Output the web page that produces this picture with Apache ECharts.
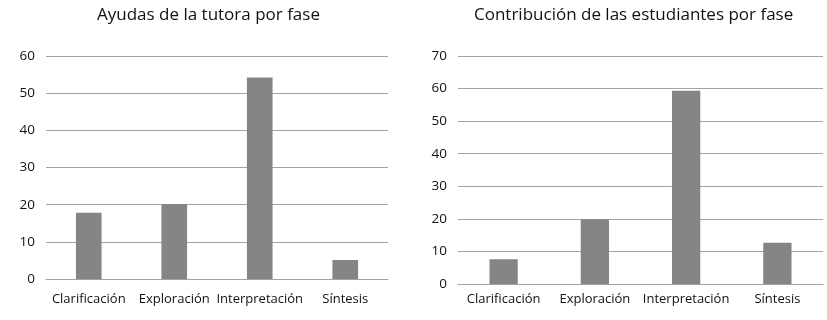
<!DOCTYPE html>
<html><head><meta charset="utf-8">
<script src="https://cdn.jsdelivr.net/npm/echarts@6/dist/echarts.min.js"></script>
<style>html,body{margin:0;padding:0;background:#fff}#c{width:827px;height:320px}</style>
</head><body><div id="c"></div>
<script>
const categories = ['Clarificación', 'Exploración', 'Interpretación', 'Síntesis'];
const tutoraValues = [17.8, 20.2, 54.2, 5.1];
const estudiantesValues = [7.6, 19.9, 59.3, 12.7];
const titleLeft = 'Ayudas de la tutora por fase';
const titleRight = 'Contribución de las estudiantes por fase';

const font = '"Open Sans", "Noto Sans", sans-serif';
const gridColor = '#a3a3a3';
const barColor = '#858585';
const textColor = '#111111';

function xAx(gi, margin) {
  return {
    type: 'category', gridIndex: gi, data: categories,
    axisTick: {show: false},
    axisLine: {show: true, lineStyle: {color: gridColor, width: 1}},
    axisLabel: {color: textColor, fontFamily: font, fontSize: 13, margin: margin, interval: 0}
  };
}
function yAx(gi, max) {
  return {
    type: 'value', gridIndex: gi, min: 0, max: max, interval: 10,
    axisLine: {show: false}, axisTick: {show: false},
    axisLabel: {color: textColor, fontFamily: font, fontSize: 13.5, margin: 11},
    splitLine: {show: true, lineStyle: {color: gridColor, width: 1}}
  };
}
const chart = echarts.init(document.getElementById('c'), null, {renderer: 'canvas'});
chart.setOption({
  animation: false,
  title: [
    {text: titleLeft, left: 92, top: 2, textStyle: {fontFamily: font, fontSize: 17, fontWeight: 'normal', color: textColor}},
    {text: titleRight, left: 469, top: 2, textStyle: {fontFamily: font, fontSize: 17, fontWeight: 'normal', color: textColor}}
  ],
  grid: [
    {left: 46, right: 439, top: 56, bottom: 41},
    {left: 458, right: 4, top: 56, bottom: 36}
  ],
  xAxis: [xAx(0, 14), xAx(1, 9)],
  yAxis: [yAx(0, 60), yAx(1, 70)],
  series: [
    {type: 'bar', xAxisIndex: 0, yAxisIndex: 0, data: tutoraValues, barWidth: '30%', itemStyle: {color: barColor}},
    {type: 'bar', xAxisIndex: 1, yAxisIndex: 1, data: estudiantesValues, barWidth: '31%', itemStyle: {color: barColor}}
  ]
});
</script></body></html>
